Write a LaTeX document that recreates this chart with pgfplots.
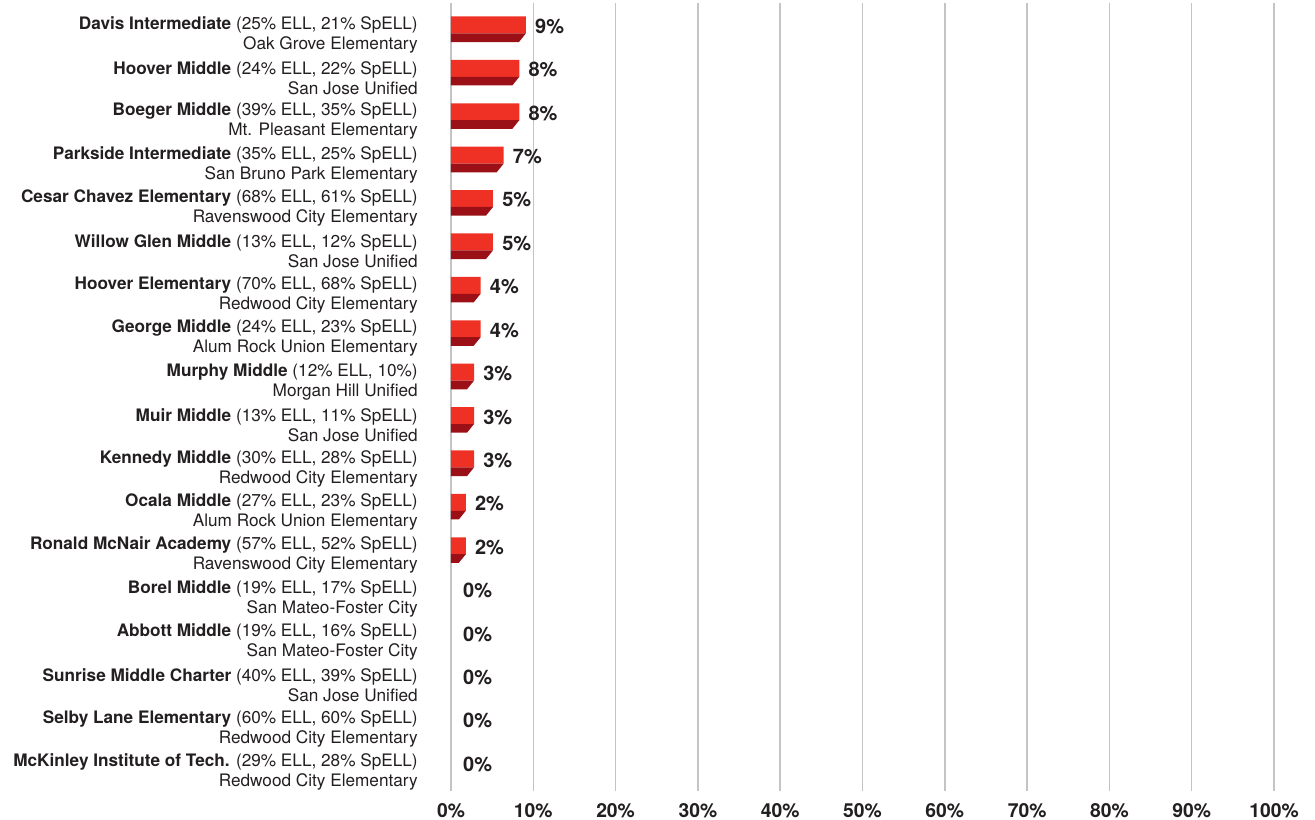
\documentclass[border=0pt]{standalone}
\usepackage{pgfplots}
\pgfplotsset{compat=1.18}
\usepackage{fontspec}
\setmainfont{TeX Gyre Heros}
\definecolor{barred}{HTML}{EE3124}
\definecolor{bardark}{HTML}{9B1016}
\definecolor{txt}{HTML}{231F20}
\definecolor{gridc}{HTML}{C4C4C4}

\begin{document}
\begin{tikzpicture}
\useasboundingbox (-338.25pt,-21.2pt) rectangle (648pt,593.05pt);
\begin{axis}[
    scale only axis,
    width=617.25pt, height=590.8pt,
    xmin=0, xmax=100,
    ymin=-0.68, ymax=17.47,
    y dir=reverse,
    axis x line*=bottom, axis y line*=left,
    axis line style={draw=none},
    xtick={0,10,...,100},
    xticklabels={0\%,10\%,20\%,30\%,40\%,50\%,60\%,70\%,80\%,90\%,100\%},
    xticklabel style={font=\fontsize{14.5}{16}\selectfont\bfseries, text=txt, anchor=base, yshift=-19.8pt},
    ytick={0,...,17},
    yticklabels={
      {\textbf{Davis Intermediate} (25\% ELL, 21\% SpELL)\\Oak Grove Elementary},
      {\textbf{Hoover Middle} (24\% ELL, 22\% SpELL)\\San Jose Unified},
      {\textbf{Boeger Middle} (39\% ELL, 35\% SpELL)\\Mt. Pleasant Elementary},
      {\textbf{Parkside Intermediate} (35\% ELL, 25\% SpELL)\\San Bruno Park Elementary},
      {\textbf{Cesar Chavez Elementary} (68\% ELL, 61\% SpELL)\\Ravenswood City Elementary},
      {\textbf{Willow Glen Middle} (13\% ELL, 12\% SpELL)\\San Jose Unified},
      {\textbf{Hoover Elementary} (70\% ELL, 68\% SpELL)\\Redwood City Elementary},
      {\textbf{George Middle} (24\% ELL, 23\% SpELL)\\Alum Rock Union Elementary},
      {\textbf{Murphy Middle} (12\% ELL, 10\%)\\Morgan Hill Unified},
      {\textbf{Muir Middle} (13\% ELL, 11\% SpELL)\\San Jose Unified},
      {\textbf{Kennedy Middle} (30\% ELL, 28\% SpELL)\\Redwood City Elementary},
      {\textbf{Ocala Middle} (27\% ELL, 23\% SpELL)\\Alum Rock Union Elementary},
      {\textbf{Ronald McNair Academy} (57\% ELL, 52\% SpELL)\\Ravenswood City Elementary},
      {\textbf{Borel Middle} (19\% ELL, 17\% SpELL)\\San Mateo-Foster City},
      {\textbf{Abbott Middle} (19\% ELL, 16\% SpELL)\\San Mateo-Foster City},
      {\textbf{Sunrise Middle Charter} (40\% ELL, 39\% SpELL)\\San Jose Unified},
      {\textbf{Selby Lane Elementary} (60\% ELL, 60\% SpELL)\\Redwood City Elementary},
      {\textbf{McKinley Institute of Tech.} (29\% ELL, 28\% SpELL)\\Redwood City Elementary}
    },
    yticklabel style={font=\fontsize{12.9}{15}\selectfont, text=txt, align=right, anchor=east, inner sep=0pt, xshift=-24.75pt, yshift=-1.5pt},
    major tick length=0pt,
    xmajorgrids,
    grid style={gridc, line width=1.1pt},
    clip=false,
]

% front face of each bar
\addplot[xbar, bar width=0.39, fill=barred, draw=none] coordinates {
    (9.1,-0.175) (8.3,0.825) (8.3,1.825) (6.4,2.825) (5.1,3.825) (5.1,4.825)
    (3.6,5.825) (3.6,6.825) (2.8,7.825) (2.8,8.825) (2.8,9.825) (1.8,10.825) (1.8,11.825)
};

% darker lower face, slanted at the end
\addplot[fill=bardark, draw=none] coordinates {(0,0.02) (9.1,0.02) (8.25,0.22) (0,0.22)} --cycle;
\addplot[fill=bardark, draw=none] coordinates {(0,1.02) (8.3,1.02) (7.45,1.22) (0,1.22)} --cycle;
\addplot[fill=bardark, draw=none] coordinates {(0,2.02) (8.3,2.02) (7.45,2.22) (0,2.22)} --cycle;
\addplot[fill=bardark, draw=none] coordinates {(0,3.02) (6.4,3.02) (5.55,3.22) (0,3.22)} --cycle;
\addplot[fill=bardark, draw=none] coordinates {(0,4.02) (5.1,4.02) (4.25,4.22) (0,4.22)} --cycle;
\addplot[fill=bardark, draw=none] coordinates {(0,5.02) (5.1,5.02) (4.25,5.22) (0,5.22)} --cycle;
\addplot[fill=bardark, draw=none] coordinates {(0,6.02) (3.6,6.02) (2.75,6.22) (0,6.22)} --cycle;
\addplot[fill=bardark, draw=none] coordinates {(0,7.02) (3.6,7.02) (2.75,7.22) (0,7.22)} --cycle;
\addplot[fill=bardark, draw=none] coordinates {(0,8.02) (2.8,8.02) (1.95,8.22) (0,8.22)} --cycle;
\addplot[fill=bardark, draw=none] coordinates {(0,9.02) (2.8,9.02) (1.95,9.22) (0,9.22)} --cycle;
\addplot[fill=bardark, draw=none] coordinates {(0,10.02) (2.8,10.02) (1.95,10.22) (0,10.22)} --cycle;
\addplot[fill=bardark, draw=none] coordinates {(0,11.02) (1.8,11.02) (0.95,11.22) (0,11.22)} --cycle;
\addplot[fill=bardark, draw=none] coordinates {(0,12.02) (1.8,12.02) (0.95,12.22) (0,12.22)} --cycle;

% value labels
\addplot[draw=none, mark=none, nodes near coords, point meta=explicit symbolic,
    every node near coord/.style={anchor=west, inner sep=0pt, text=txt,
      font=\fontsize{15}{17}\selectfont\bfseries}] coordinates {
    (10.2,-0.14) [9\%] (9.4,0.86) [8\%] (9.4,1.86) [8\%] (7.5,2.86) [7\%]
    (6.2,3.86) [5\%] (6.2,4.86) [5\%] (4.7,5.86) [4\%] (4.7,6.86) [4\%]
    (3.9,7.86) [3\%] (3.9,8.86) [3\%] (3.9,9.86) [3\%] (2.9,10.86) [2\%] (2.9,11.86) [2\%]
    (1.45,12.86) [0\%] (1.45,13.86) [0\%] (1.45,14.86) [0\%] (1.45,15.86) [0\%] (1.45,16.86) [0\%]
};

\end{axis}
\end{tikzpicture}
\end{document}
